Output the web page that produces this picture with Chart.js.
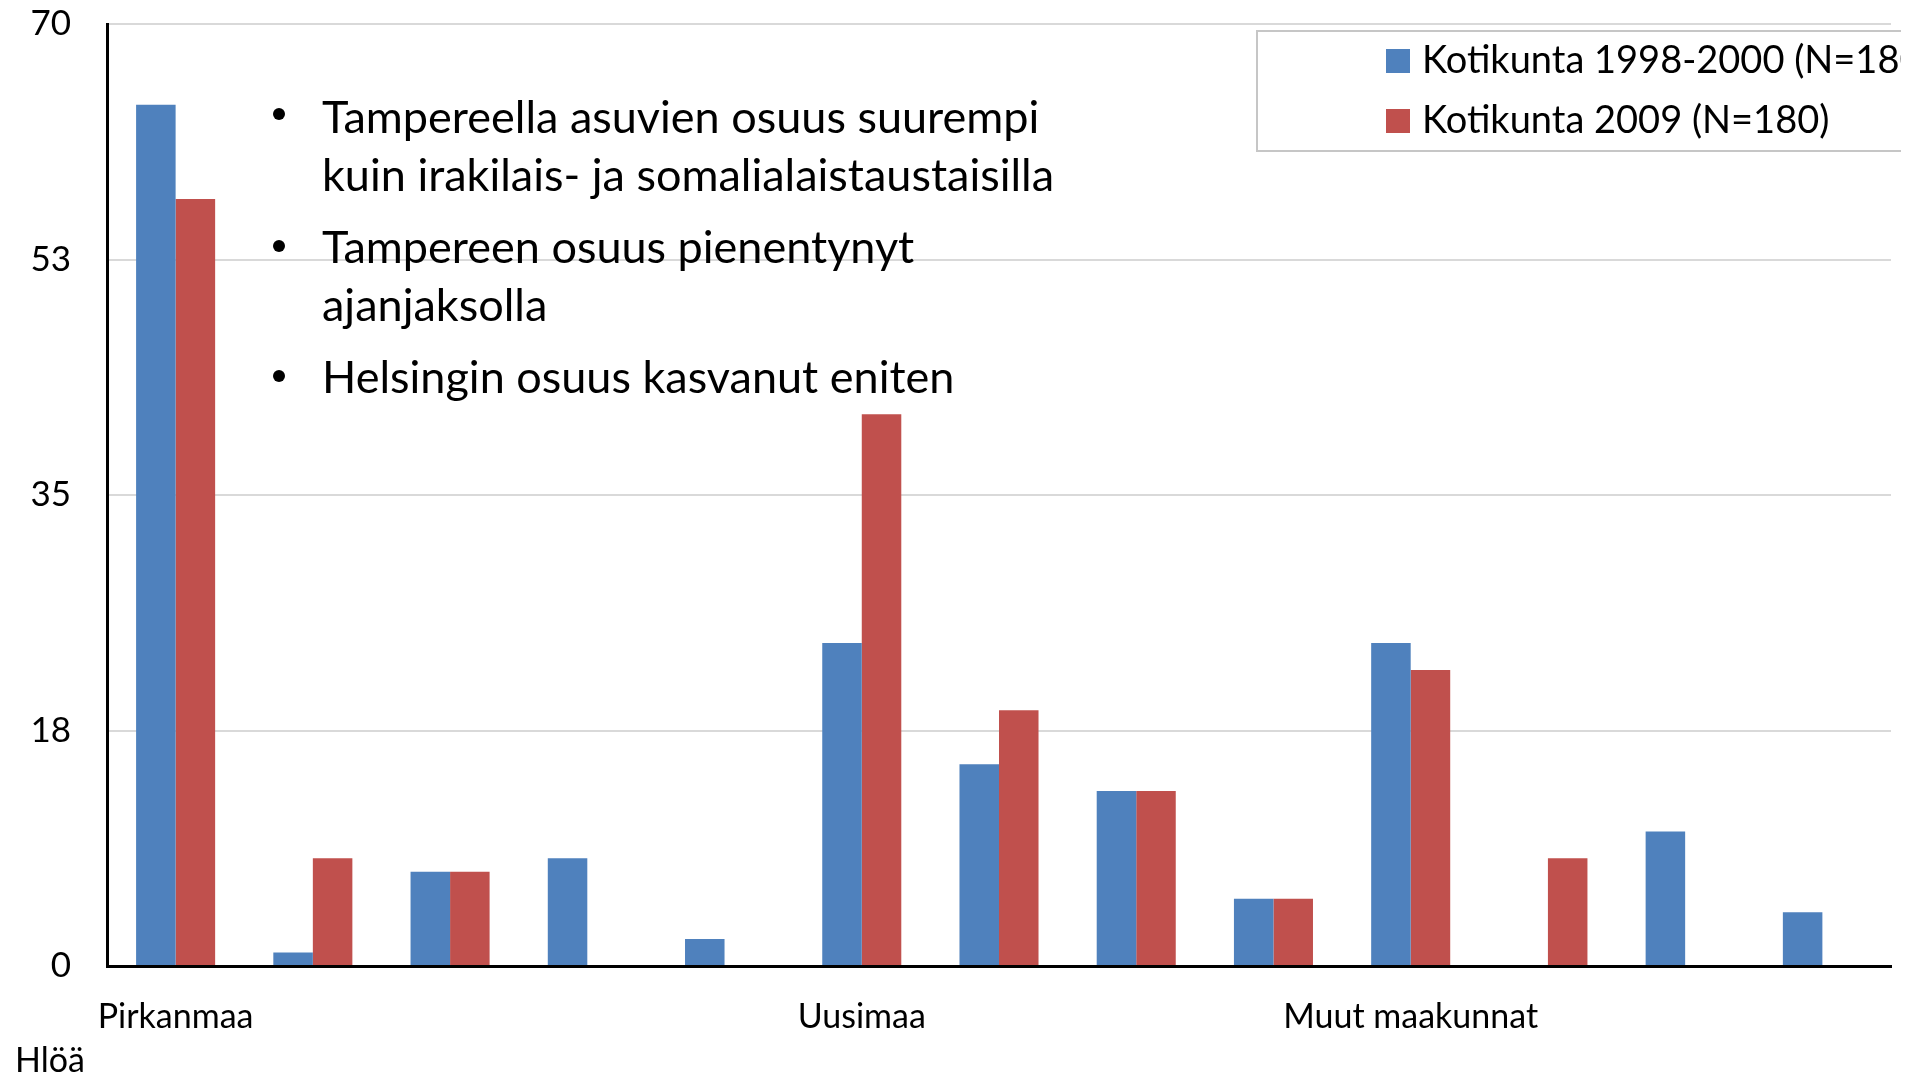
<!DOCTYPE html>
<html>
<head>
<meta charset="utf-8">
<script src="https://cdn.jsdelivr.net/npm/chart.js@4"></script>
<style>
  html, body { margin: 0; padding: 0; background: #fff; }
  canvas { display: block; }
</style>
</head>
<body>
<canvas id="chart" width="1928" height="1078"></canvas>
<script>
// --- data ---
const categories = ['Pirkanmaa', '', '', '', '', 'Uusimaa', '', '', '', 'Muut maakunnat', '', '', ''];
const values1998 = [64, 1, 7, 8, 2, 24, 15, 13, 5, 24, 0, 10, 4];
const values2009 = [57, 8, 7, 0, 0, 41, 19, 13, 5, 22, 8, 0, 0];
const seriesNames = ['Kotikunta 1998-2000 (N=180)', 'Kotikunta 2009 (N=180)'];
const yTicks = [0, 17.5, 35, 52.5, 70];
const notes = [
    ['Tampereella asuvien osuus suurempi', 'kuin irakilais- ja somalialaistaustaisilla'],
    ['Tampereen osuus pienentynyt', 'ajanjaksolla'],
    ['Helsingin osuus kasvanut eniten']
];
const unitLabel = 'Hlöä';

const BLUE = '#4f81bd';
const RED = '#c0504d';
const FONT = 'Lato, "Open Sans", sans-serif';

// texts drawn on top of the chart: notes, legend box, unit label
const overlay = {
    id: 'overlay',
    afterDraw(chart) {
        const ctx = chart.ctx;
        ctx.save();
        ctx.fillStyle = '#000';
        ctx.textBaseline = 'alphabetic';
        ctx.textAlign = 'left';

        // bullet notes
        ctx.font = '45px ' + FONT;
        const baselines = [[133, 191], [263, 321], [393]];
        const bulletY = [114, 246, 376];
        notes.forEach((para, i) => {
            ctx.beginPath();
            ctx.arc(279, bulletY[i], 6, 0, Math.PI * 2);
            ctx.fill();
            para.forEach((line, j) => ctx.fillText(line, 322, baselines[i][j]));
        });

        // legend box (right side cut off like in the source image)
        ctx.strokeStyle = '#c6c6c6';
        ctx.lineWidth = 2;
        ctx.beginPath();
        ctx.moveTo(1901, 31);
        ctx.lineTo(1257, 31);
        ctx.lineTo(1257, 151);
        ctx.lineTo(1901, 151);
        ctx.stroke();

        ctx.beginPath();
        ctx.rect(0, 0, 1901, 1078);
        ctx.clip();
        ctx.font = '38px ' + FONT;
        chart.data.datasets.forEach((ds, i) => {
            const base = 73 + i * 60;
            ctx.fillStyle = ds.backgroundColor;
            ctx.fillRect(1386, base - 24, 24, 24);
            ctx.fillStyle = '#000';
            ctx.fillText(ds.label, 1422, base);
        });
        ctx.restore();

        ctx.save();
        ctx.fillStyle = '#000';
        ctx.font = '34px ' + FONT;
        ctx.fillText(unitLabel, 15, 1072);
        ctx.restore();
    }
};

new Chart(document.getElementById('chart'), {
    type: 'bar',
    data: {
        labels: categories,
        datasets: [
            { label: seriesNames[0], data: values1998, backgroundColor: BLUE },
            { label: seriesNames[1], data: values2009, backgroundColor: RED }
        ]
    },
    options: {
        responsive: false,
        animation: false,
        events: [],
        categoryPercentage: 0.576,
        barPercentage: 1,
        layout: { padding: { left: 0, top: 24, right: 37, bottom: 0 } },
        plugins: {
            legend: { display: false },
            tooltip: { enabled: false }
        },
        scales: {
            x: {
                grid: { display: false },
                border: { color: '#000', width: 3 },
                ticks: {
                    autoSkip: false,
                    maxRotation: 0,
                    color: '#000',
                    padding: 23,
                    font: { size: 34, family: FONT }
                },
                afterFit(scale) {
                    scale.height = 112;
                    scale.paddingLeft = 0;
                    scale.paddingRight = 0;
                }
            },
            y: {
                min: 0,
                max: 70,
                afterBuildTicks(scale) { scale.ticks = yTicks.map(v => ({ value: v })); },
                grid: { color: '#d9d9d9', lineWidth: 2, drawTicks: false },
                border: { color: '#000', width: 3 },
                ticks: {
                    color: '#000',
                    padding: 36,
                    font: { size: 35, family: FONT },
                    callback: v => Math.round(v)
                },
                afterFit(scale) {
                    scale.width = 107;
                    scale.paddingTop = 0;
                    scale.paddingBottom = 0;
                }
            }
        }
    },
    plugins: [overlay]
});
</script>
</body>
</html>
